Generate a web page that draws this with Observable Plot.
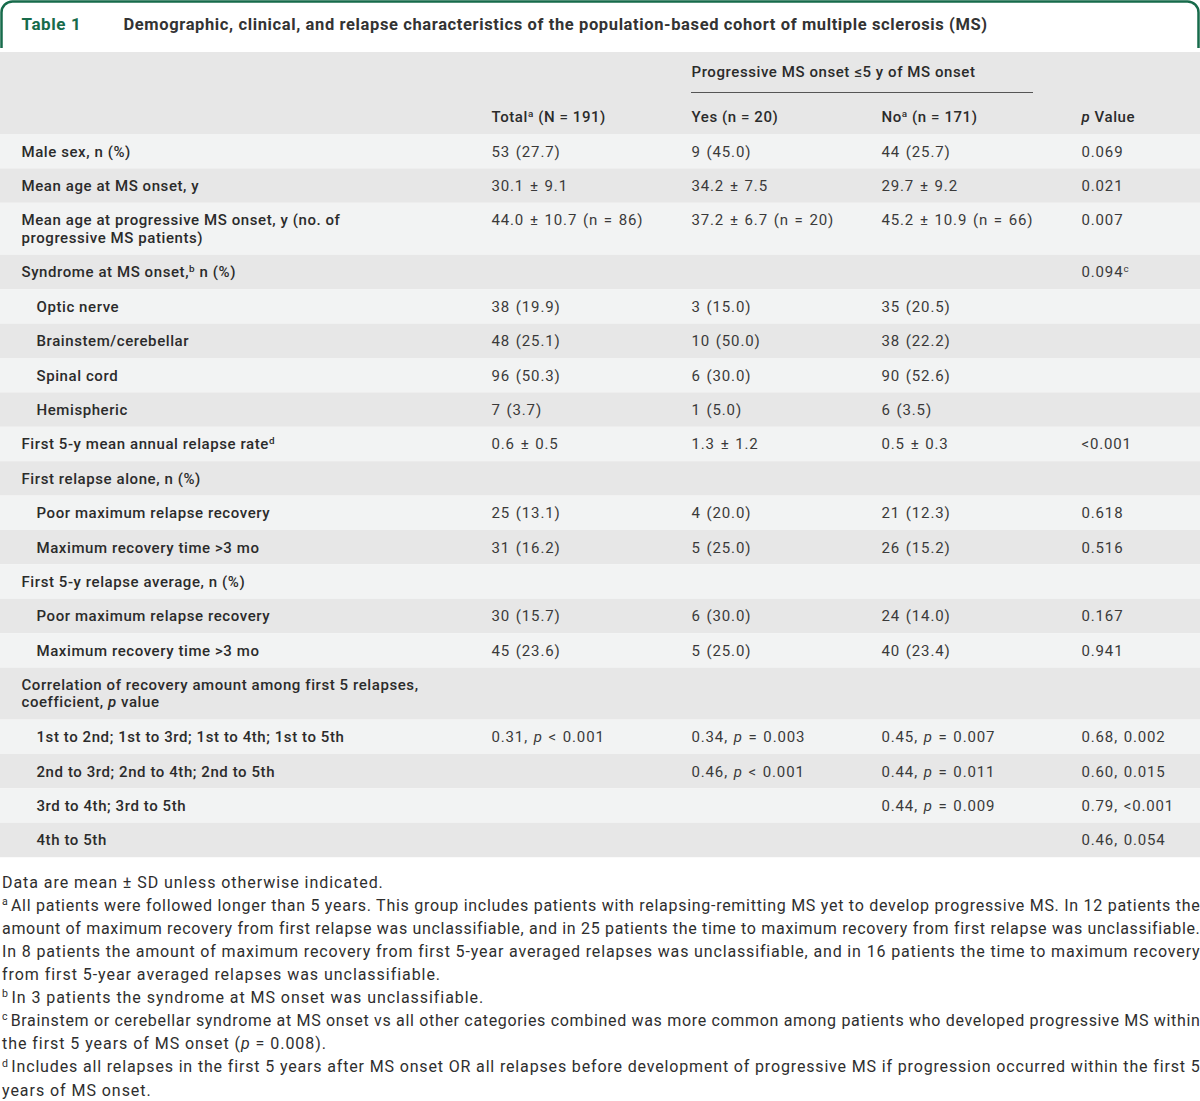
<!DOCTYPE html>
<html>
<head>
<meta charset="utf-8">
<script src="https://cdn.jsdelivr.net/npm/d3@7"></script>
<script src="https://cdn.jsdelivr.net/npm/@observablehq/plot@0.6"></script>
<style>
  html, body { margin: 0; padding: 0; background: #fff; }
  #chart svg { display: block; }
</style>
</head>
<body>
<div id="chart"></div>
<script>
// ---------- DATA ----------
const tableNumber = "Table 1";
const tableTitle = "Demographic, clinical, and relapse characteristics of the population-based cohort of multiple sclerosis (MS)";
const spanHeader = "Progressive MS onset ≤5 y of MS onset";
const columnHeaders = ["", "Total^a (N = 191)", "Yes (n = 20)", "No^a (n = 171)", "*p* Value"];

const rowLabels = [
  ["Male sex, n (%)"],
  ["Mean age at MS onset, y"],
  ["Mean age at progressive MS onset, y (no. of", "progressive MS patients)"],
  ["Syndrome at MS onset,^b n (%)"],
  ["Optic nerve"],
  ["Brainstem/cerebellar"],
  ["Spinal cord"],
  ["Hemispheric"],
  ["First 5-y mean annual relapse rate^d"],
  ["First relapse alone, n (%)"],
  ["Poor maximum relapse recovery"],
  ["Maximum recovery time >3 mo"],
  ["First 5-y relapse average, n (%)"],
  ["Poor maximum relapse recovery"],
  ["Maximum recovery time >3 mo"],
  ["Correlation of recovery amount among first 5 relapses,", "coefficient, *p* value"],
  ["1st to 2nd; 1st to 3rd; 1st to 4th; 1st to 5th"],
  ["2nd to 3rd; 2nd to 4th; 2nd to 5th"],
  ["3rd to 4th; 3rd to 5th"],
  ["4th to 5th"]
];
const rowIndented = [0,0,0,0,1,1,1,1,0,0,1,1,0,1,1,0,1,1,1,1];
const totalValues = ["53 (27.7)","30.1 ± 9.1","44.0 ± 10.7 (n = 86)","","38 (19.9)","48 (25.1)","96 (50.3)","7 (3.7)","0.6 ± 0.5","","25 (13.1)","31 (16.2)","","30 (15.7)","45 (23.6)","","0.31, *p* < 0.001","","",""];
const yesValues   = ["9 (45.0)","34.2 ± 7.5","37.2 ± 6.7 (n = 20)","","3 (15.0)","10 (50.0)","6 (30.0)","1 (5.0)","1.3 ± 1.2","","4 (20.0)","5 (25.0)","","6 (30.0)","5 (25.0)","","0.34, *p* = 0.003","0.46, *p* < 0.001","",""];
const noValues    = ["44 (25.7)","29.7 ± 9.2","45.2 ± 10.9 (n = 66)","","35 (20.5)","38 (22.2)","90 (52.6)","6 (3.5)","0.5 ± 0.3","","21 (12.3)","26 (15.2)","","24 (14.0)","40 (23.4)","","0.45, *p* = 0.007","0.44, *p* = 0.011","0.44, *p* = 0.009",""];
const pValues     = ["0.069","0.021","0.007","0.094^c","","","","","<0.001","","0.618","0.516","","0.167","0.941","","0.68, 0.002","0.60, 0.015","0.79, <0.001","0.46, 0.054"];

const footnoteLines = [
  "Data are mean ± SD unless otherwise indicated.",
  "^aAll patients were followed longer than 5 years. This group includes patients with relapsing-remitting MS yet to develop progressive MS. In 12 patients the",
  "amount of maximum recovery from first relapse was unclassifiable, and in 25 patients the time to maximum recovery from first relapse was unclassifiable.",
  "In 8 patients the amount of maximum recovery from first 5-year averaged relapses was unclassifiable, and in 16 patients the time to maximum recovery",
  "from first 5-year averaged relapses was unclassifiable.",
  "^bIn 3 patients the syndrome at MS onset was unclassifiable.",
  "^cBrainstem or cerebellar syndrome at MS onset vs all other categories combined was more common among patients who developed progressive MS within",
  "the first 5 years of MS onset (*p* = 0.008).",
  "^dIncludes all relapses in the first 5 years after MS onset OR all relapses before development of progressive MS if progression occurred within the first 5",
  "years of MS onset."
];
const footnoteJustified = [0,1,1,1,0,0,1,0,1,0];

// ---------- LAYOUT (pixels, via identity scales) ----------
const W = 1200, H = 1101;
const colX = [21, 491, 691, 881, 1081];
const indentX = 36;
const bodyTop = 134, rowH = 34.4, rowH2 = 52;
const green = "#176b4b";
const lightFill = "#f2f3f3", darkFill = "#e7e7e7";

const stripes = [], labelCells = [], valueCells = [];
let yTop = bodyTop;
rowLabels.forEach((lines, i) => {
  const h = lines.length > 1 ? rowH2 : rowH;
  stripes.push({y1: yTop, y2: yTop + h, fill: i % 2 === 0 ? lightFill : darkFill});
  const firstY = lines.length > 1 ? yTop + 17 : yTop + h / 2;
  lines.forEach((t, k) => labelCells.push({x: rowIndented[i] ? indentX : colX[0], y: firstY + k * 17.5, text: t}));
  [totalValues, yesValues, noValues, pValues].forEach((col, c) => {
    if (col[i]) valueCells.push({x: colX[c + 1], y: firstY, text: col[i]});
  });
  yTop += h;
});
const headerCells = columnHeaders.map((t, c) => ({x: colX[c], y: 117, text: t})).filter(d => d.text);
headerCells.push({x: colX[2], y: 72, text: spanHeader});
const footCells = footnoteLines.map((t, i) => ({x: 1.5, y: 882 + i * 23.1, text: t}));

const chart = Plot.plot({
  width: W, height: H, margin: 0,
  x: {type: "identity", axis: null}, y: {type: "identity", axis: null},
  style: {fontFamily: "Roboto, 'Liberation Sans', sans-serif", background: "#fff"},
  marks: [
    Plot.rect([0], {x1: 1.5, x2: W - 1.5, y1: 1.5, y2: 70, rx: 11, fill: "#fff", stroke: green, strokeWidth: 2.5}),
    Plot.rect([0], {x1: 0, x2: W, y1: 48, y2: 52, fill: "#fff"}),
    Plot.rect([0], {x1: 0, x2: W, y1: 52, y2: bodyTop, fill: darkFill}),
    Plot.rect(stripes, {x1: 0, x2: W, y1: "y1", y2: "y2", fill: "fill"}),
    Plot.ruleY([92], {x1: colX[2], x2: 1033, stroke: "#555", strokeWidth: 1.2}),
    Plot.text([tableNumber], {x: colX[0], y: 24, text: d => d, textAnchor: "start", fontSize: 17, fontWeight: 700, fill: green}),
    Plot.text([tableTitle], {x: 123, y: 24, text: d => d, textAnchor: "start", fontSize: 16.5, fontWeight: 700, fill: "#333"}),
    Plot.text(headerCells, {x: "x", y: "y", text: "text", textAnchor: "start", fontSize: 15, fontWeight: 500, fill: "#2b2b2b"}),
    Plot.text(labelCells, {x: "x", y: "y", text: "text", textAnchor: "start", fontSize: 15, fontWeight: 500, fill: "#2b2b2b"}),
    Plot.text(valueCells, {x: "x", y: "y", text: "text", textAnchor: "start", fontSize: 15, fontWeight: 400, fill: "#3a3a3a"}),
    Plot.text(footCells, {x: "x", y: "y", text: "text", textAnchor: "start", fontSize: 16, fontWeight: 400, fill: "#2e2e2e"})
  ]
});
document.getElementById("chart").appendChild(chart);
const svg = d3.select(chart);

// ---------- letter spacing per text group (in mark order) ----------
const groups = svg.selectAll("g[aria-label='text']").nodes();
const spacing = [0.6, 0.62, 0.58, 0.58, 0.85, 0.95]; // number, title, header, label, value, foot
const wordSp  = [0, 0, 0, 0, 1.2, 0];
groups.forEach((g, i) => {
  if (spacing[i] != null) g.setAttribute("letter-spacing", spacing[i]);
  if (wordSp[i]) g.setAttribute("word-spacing", wordSp[i]);
});
const footGroup = groups[5];

// ---------- rich text: *italic* and ^superscript ----------
svg.selectAll("text").each(function() {
  const s = this.textContent;
  if (!/[*^]/.test(s)) return;
  const inFoot = this.parentNode === footGroup;
  const parts = s.split(/(\*[^*]+\*|\^[a-d])/).filter(p => p !== "");
  const el = d3.select(this);
  el.text("");
  let raise = false;
  parts.forEach(p => {
    let ts;
    if (p.startsWith("*")) {
      ts = el.append("tspan").attr("font-style", "italic").text(p.slice(1, -1));
    } else if (p.startsWith("^")) {
      el.append("tspan").attr("font-size", "0.66em").attr("dy", "-0.55em").text(p.slice(1));
      raise = true; return;
    } else {
      ts = el.append("tspan").text(p);
    }
    if (raise) { ts.attr("dy", "0.363em"); if (inFoot) ts.attr("dx", 2.5); raise = false; }
  });
});

// ---------- justify footnote lines (measured with getBBox) ----------
const justifyIdx = new Set(footnoteJustified.map((j, i) => j ? i : -1).filter(i => i >= 0));
const footTexts = d3.select(footGroup).selectAll("text").nodes();
footTexts.forEach((el, i) => {
  if (!justifyIdx.has(i)) return;
  const s = el.textContent;
  const left = el.getBBox().x;
  const target = W - 1.5 - left;
  const chars = s.length;
  let ls = spacing[5];
  el.setAttribute("letter-spacing", ls);
  el.setAttribute("word-spacing", 0);
  let w = el.getBBox().width;
  for (let k = 0; k < 3 && w > target; k++) {
    ls -= (w - target + 1) / chars;
    el.setAttribute("letter-spacing", ls);
    w = el.getBBox().width;
  }
  const spaces = (s.match(/ /g) || []).length;
  if (spaces > 0 && w < target) {
    let ws = (target - w) / spaces;
    el.setAttribute("word-spacing", ws);
    const w2 = el.getBBox().width;
    if (Math.abs(w2 - target) > 0.5) {
      ws += (target - w2) / spaces;
      el.setAttribute("word-spacing", ws);
    }
  }
});
</script>
</body>
</html>
